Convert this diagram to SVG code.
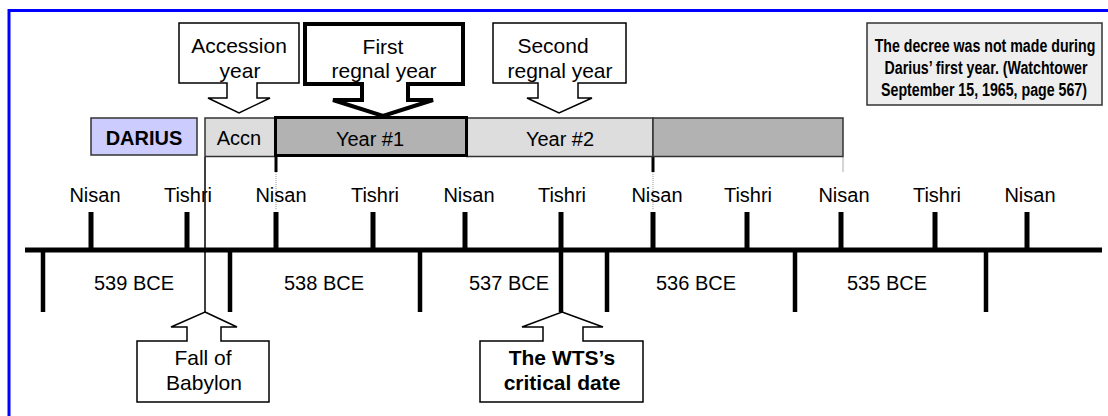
<svg xmlns="http://www.w3.org/2000/svg" width="1108" height="416" viewBox="0 0 1108 416">
<style>
text{font-family:"Liberation Sans",Arial,sans-serif;fill:#000;text-anchor:middle}
.t20{font-size:20px}
.t21{font-size:21px}
.b{font-weight:bold}
.note{font-size:14.2px;font-weight:bold}
.call{fill:#fff;stroke:#000;stroke-width:1.5;stroke-linejoin:miter}
.callT{fill:#fff;stroke:#000;stroke-width:4;stroke-linejoin:miter}
.bar{stroke:#333;stroke-width:1.5}
.lt{fill:#dddddd}
.dk{fill:#b2b2b2}
.tick{stroke:#000;stroke-width:5}
.ltick{stroke:#000;stroke-width:4.5}
</style>
<rect x="0" y="0" width="1108" height="416" fill="#fff"/>
<rect x="9" y="10.5" width="1110" height="420" fill="none" stroke="#0000ff" stroke-width="3"/>

<g id="connectors">
  <line x1="25" y1="250" x2="1102" y2="250" stroke="#000" stroke-width="5"/>
  <g id="upper-ticks">
    <line class="tick" x1="91" y1="212" x2="91" y2="250"/>
    <line class="tick" x1="187" y1="212" x2="187" y2="250"/>
    <line class="tick" x1="276" y1="212" x2="276" y2="250"/>
    <line class="tick" x1="373" y1="212" x2="373" y2="250"/>
    <line class="tick" x1="465" y1="212" x2="465" y2="250"/>
    <line class="tick" x1="561" y1="212" x2="561" y2="250"/>
    <line class="tick" x1="653" y1="212" x2="653" y2="250"/>
    <line class="tick" x1="747" y1="212" x2="747" y2="250"/>
    <line class="tick" x1="841" y1="212" x2="841" y2="250"/>
    <line class="tick" x1="935" y1="212" x2="935" y2="250"/>
    <line class="tick" x1="1027" y1="212" x2="1027" y2="250"/>
  </g>
  <g id="lower-ticks">
    <line class="ltick" x1="43" y1="250" x2="43" y2="312"/>
    <line class="ltick" x1="230" y1="250" x2="230" y2="312"/>
    <line class="ltick" x1="420" y1="250" x2="420" y2="312"/>
    <line class="ltick" x1="561" y1="250" x2="561" y2="312"/>
    <line class="ltick" x1="607" y1="250" x2="607" y2="312"/>
    <line class="ltick" x1="795" y1="250" x2="795" y2="312"/>
    <line class="ltick" x1="986" y1="250" x2="986" y2="312"/>
  </g>
  <line x1="205" y1="157" x2="205" y2="312" stroke="#000" stroke-width="1.5"/>
  <line x1="276" y1="157" x2="276" y2="172" stroke="#000" stroke-width="3"/>
  <line x1="276" y1="172" x2="276" y2="210" stroke="#999" stroke-width="1" stroke-dasharray="1,1"/>
  <line x1="653" y1="157" x2="653" y2="172" stroke="#000" stroke-width="3"/>
  <line x1="653" y1="172" x2="653" y2="210" stroke="#999" stroke-width="1" stroke-dasharray="1,1"/>
  <line x1="843" y1="157" x2="843" y2="172" stroke="#aaa" stroke-width="1"/>
</g>

<g id="month-labels" class="t20">
  <text x="95" y="202">Nisan</text>
  <text x="188" y="202">Tishri</text>
  <text x="281" y="202">Nisan</text>
  <text x="375" y="202">Tishri</text>
  <text x="469" y="202">Nisan</text>
  <text x="562" y="202">Tishri</text>
  <text x="657" y="202">Nisan</text>
  <text x="748" y="202">Tishri</text>
  <text x="844" y="202">Nisan</text>
  <text x="937" y="202">Tishri</text>
  <text x="1030" y="202">Nisan</text>
</g>

<g id="year-labels" class="t20">
  <text x="134" y="290">539 BCE</text>
  <text x="324" y="290">538 BCE</text>
  <text x="509" y="290">537 BCE</text>
  <text x="696" y="290">536 BCE</text>
  <text x="887" y="290">535 BCE</text>
</g>

<g id="darius">
  <rect x="91" y="118" width="106" height="37" fill="#ccccff" stroke="#333" stroke-width="1.5"/>
  <text class="t20 b" x="144" y="145">DARIUS</text>
</g>
<g id="bar-accn">
  <rect class="bar lt" x="205" y="118" width="70" height="38.5"/>
  <text class="t20" x="239" y="145">Accn</text>
</g>
<g id="bar-year2">
  <rect class="bar lt" x="467" y="118" width="186" height="38.5"/>
  <text class="t20" x="560" y="146">Year #2</text>
</g>
<g id="bar-year3">
  <rect class="bar dk" x="653" y="118" width="190" height="38.5"/>
</g>
<g id="bar-year1">
  <rect class="dk" x="275.5" y="117.5" width="191" height="38" stroke="#000" stroke-width="3"/>
  <text class="t20" x="370" y="146">Year #1</text>
</g>

<g id="callout-accession">
  <path class="call" d="M179,23 H299 V83 H257 V98 H270 L239,113 L208,98 H227 V83 H179 Z"/>
  <text class="t21" x="239" y="53">Accession</text>
  <text class="t21" x="240" y="78">year</text>
</g>
<g id="callout-first">
  <path class="callT" d="M305,24 H463 V84 H408 V100 H433 L383,116 L333,100 H362 V84 H305 Z"/>
  <text class="t21" x="383" y="54">First</text>
  <text class="t21" x="384" y="78">regnal year</text>
</g>
<g id="callout-second">
  <path class="call" d="M493,23 H626 V83 H578 V98 H592 L559,113 L527,98 H538 V83 H493 Z"/>
  <text class="t21" x="553" y="53">Second</text>
  <text class="t21" x="560" y="78">regnal year</text>
</g>

<g id="note">
  <rect x="867" y="23" width="235" height="82" fill="#eeeeee" stroke="#333" stroke-width="1.5"/>
  <text class="note" transform="translate(985,52) scale(1,1.3)" x="0" y="0">The decree was not made during</text>
  <text class="note" transform="translate(986,74) scale(1,1.3)" x="0" y="0">Darius’ first year. (Watchtower</text>
  <text class="note" transform="translate(984,96) scale(1,1.3)" x="0" y="0">September 15, 1965, page 567)</text>
</g>

<g id="callout-fall">
  <path class="call" d="M205,312 L237,327 H221 V341 H269 V402 H137 V341 H187 V327 H171 Z"/>
  <text class="t21" x="203" y="365">Fall of</text>
  <text class="t21" x="204" y="390">Babylon</text>
</g>
<g id="callout-wts">
  <path class="call" d="M562,312 L603,327 H583 V341 H643 V402 H480 V341 H543 V327 H522 Z"/>
  <text class="t21 b" x="562" y="365">The WTS’s</text>
  <text class="t21 b" x="562" y="390">critical date</text>
</g>
</svg>
